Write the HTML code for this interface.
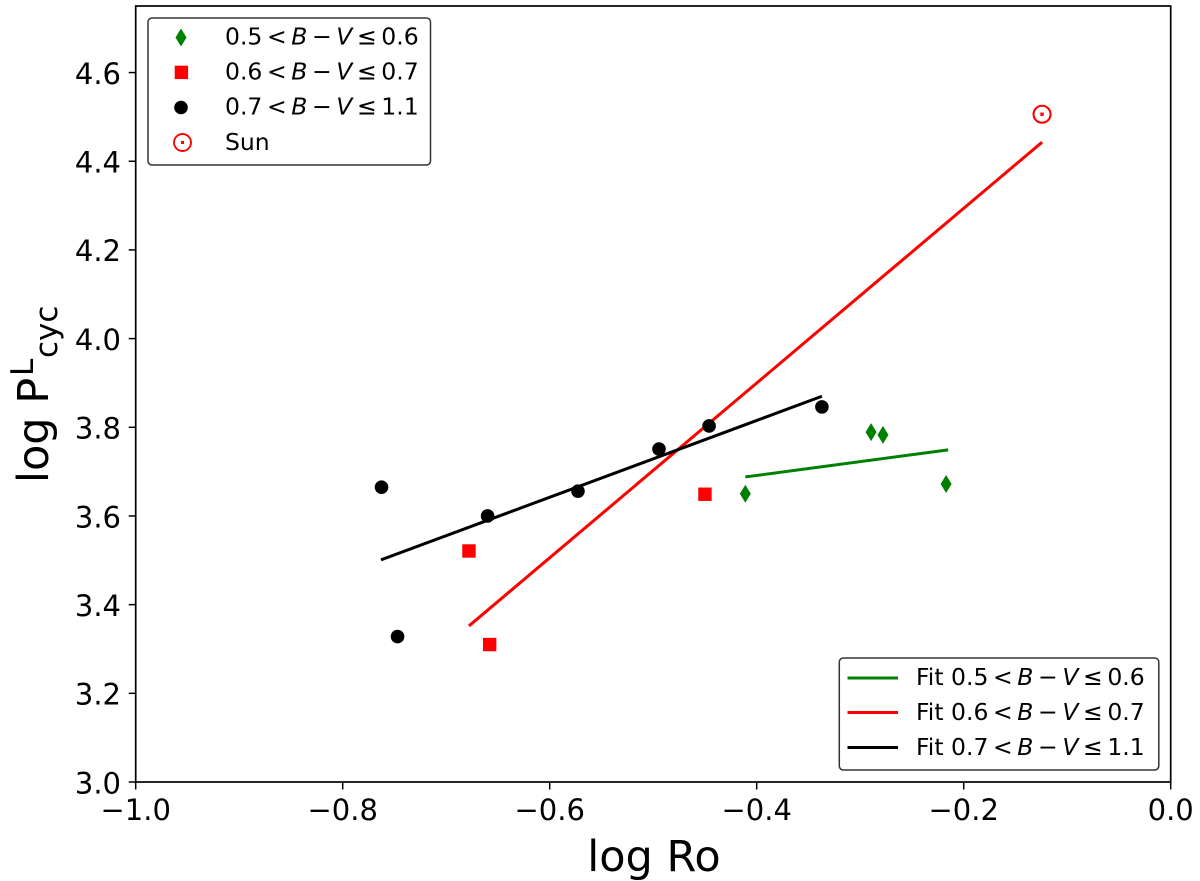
<!DOCTYPE html>
<html>
<head>
<meta charset="utf-8">
<style>
html,body{margin:0;padding:0;background:#fff;width:1200px;height:881px;overflow:hidden}
svg{display:block}
text{font-family:"DejaVu Sans","Liberation Sans",sans-serif;fill:#000}
.tick{font-size:29px}
.leg{font-size:23.5px}
.i{font-style:italic}
</style>
</head>
<body>
<svg id="chart" width="1200" height="881" viewBox="0 0 1200 881" xmlns="http://www.w3.org/2000/svg">
  <rect x="0" y="0" width="1200" height="881" fill="#fff"/>
  <g id="fits"></g>
  <g id="points"></g>
  <rect x="135.7" y="6" width="1035" height="776" fill="none" stroke="#000" stroke-width="1.7"/>
  <g id="xticks"></g>
  <g id="yticks"></g>

  <text x="654" y="871" font-size="43" text-anchor="middle">log Ro</text>
  <g>
    <text transform="translate(48,483) rotate(-90)" font-size="43">log P</text>
    <text transform="translate(33,376) rotate(-90)" font-size="31">L</text>
    <text transform="translate(57,358) rotate(-90)" font-size="31">cyc</text>
  </g>

  <g>
    <rect x="148" y="18" width="282.5" height="147" rx="4" fill="#fff" fill-opacity="0.8" stroke="#333" stroke-width="1.5"/>
    <g>
      <path d="M181 28.5 L186.5 37.5 L181 46.5 L175.5 37.5 Z" fill="#008000"/>
      <text class="leg" x="225" y="44.5">0.5<tspan dx="4.6">&lt;</tspan><tspan class="i" dx="4.6">B</tspan><tspan dx="4.6">−</tspan><tspan class="i" dx="4.6">V</tspan><tspan dx="4.6">≤</tspan><tspan dx="4.6">0.6</tspan></text>
    </g>
    <g>
      <rect x="174.7" y="65.7" width="13.4" height="13.4" fill="#f00"/>
      <text class="leg" x="225" y="79.5">0.6<tspan dx="4.6">&lt;</tspan><tspan class="i" dx="4.6">B</tspan><tspan dx="4.6">−</tspan><tspan class="i" dx="4.6">V</tspan><tspan dx="4.6">≤</tspan><tspan dx="4.6">0.7</tspan></text>
    </g>
    <g>
      <circle cx="181" cy="107.5" r="6.8" fill="#000"/>
      <text class="leg" x="225" y="114.5">0.7<tspan dx="4.6">&lt;</tspan><tspan class="i" dx="4.6">B</tspan><tspan dx="4.6">−</tspan><tspan class="i" dx="4.6">V</tspan><tspan dx="4.6">≤</tspan><tspan dx="4.6">1.1</tspan></text>
    </g>
    <g>
      <circle cx="182.5" cy="142.5" r="8.5" fill="none" stroke="#f00" stroke-width="1.9"/>
      <rect x="181" y="141" width="3" height="3" fill="#f00"/>
      <text class="leg" x="225" y="150">Sun</text>
    </g>
  </g>

  <g>
    <rect x="839.3" y="658" width="319.5" height="112" rx="4" fill="#fff" fill-opacity="0.8" stroke="#333" stroke-width="1.5"/>
    <g>
      <line x1="847.5" y1="678" x2="898" y2="678" stroke="#008000" stroke-width="3"/>
      <text class="leg" x="916" y="685">Fit 0.5<tspan dx="4.6">&lt;</tspan><tspan class="i" dx="4.6">B</tspan><tspan dx="4.6">−</tspan><tspan class="i" dx="4.6">V</tspan><tspan dx="4.6">≤</tspan><tspan dx="4.6">0.6</tspan></text>
    </g>
    <g>
      <line x1="847.5" y1="712.5" x2="898" y2="712.5" stroke="#f00" stroke-width="3"/>
      <text class="leg" x="916" y="720">Fit 0.6<tspan dx="4.6">&lt;</tspan><tspan class="i" dx="4.6">B</tspan><tspan dx="4.6">−</tspan><tspan class="i" dx="4.6">V</tspan><tspan dx="4.6">≤</tspan><tspan dx="4.6">0.7</tspan></text>
    </g>
    <g>
      <line x1="847.5" y1="747.5" x2="898" y2="747.5" stroke="#000" stroke-width="3"/>
      <text class="leg" x="916" y="755">Fit 0.7<tspan dx="4.6">&lt;</tspan><tspan class="i" dx="4.6">B</tspan><tspan dx="4.6">−</tspan><tspan class="i" dx="4.6">V</tspan><tspan dx="4.6">≤</tspan><tspan dx="4.6">1.1</tspan></text>
    </g>
  </g>
</svg>
<script>
var xTickValues = [-1.0, -0.8, -0.6, -0.4, -0.2, 0.0];
var xTickLabels = ['−1.0', '−0.8', '−0.6', '−0.4', '−0.2', '0.0'];
var yTickValues = [3.0, 3.2, 3.4, 3.6, 3.8, 4.0, 4.2, 4.4, 4.6];
var yTickLabels = ['3.0', '3.2', '3.4', '3.6', '3.8', '4.0', '4.2', '4.4', '4.6'];

var greenX = [-0.411, -0.2895, -0.278, -0.217];
var greenY = [3.650, 3.789, 3.783, 3.672];
var redX = [-0.678, -0.658, -0.450];
var redY = [3.521, 3.310, 3.649];
var blackX = [-0.7625, -0.747, -0.660, -0.5727, -0.4944, -0.446, -0.337];
var blackY = [3.665, 3.328, 3.600, 3.656, 3.751, 3.803, 3.846];
var sunX = [-0.1243];
var sunY = [4.506];

var fitGreenX = [-0.411, -0.215];
var fitGreenY = [3.688, 3.749];
var fitRedX = [-0.678, -0.1243];
var fitRedY = [3.352, 4.443];
var fitBlackX = [-0.763, -0.337];
var fitBlackY = [3.501, 3.870];

var SVG_NS = 'http://www.w3.org/2000/svg';
function sx(v) { return 135.7 + (v + 1) * 1035; }
function sy(v) { return 782 - (v - 3) * 443.4; }
function mk(tag, attrs, parent) {
  var el = document.createElementNS(SVG_NS, tag);
  for (var k in attrs) { el.setAttribute(k, attrs[k]); }
  parent.appendChild(el);
  return el;
}

var xg = document.getElementById('xticks');
xTickValues.forEach(function (v, i) {
  var t = mk('line', { x1: sx(v), x2: sx(v), y1: 782, y2: 789.5, stroke: '#000', 'stroke-width': 1.5 }, xg);
  
  
  var l = mk('text', { x: sx(v), y: 820, 'text-anchor': 'middle', 'class': 'tick' }, xg);
  
  
  l.textContent = xTickLabels[i];
});

var yg = document.getElementById('yticks');
yTickValues.forEach(function (v, i) {
  var t = mk('line', { x1: 128.7, x2: 135.7, y1: sy(v), y2: sy(v), stroke: '#000', 'stroke-width': 1.5 }, yg);
  
  
  var l = mk('text', { x: 121, y: sy(v) + 11.3, 'text-anchor': 'end', 'class': 'tick' }, yg);
  
  
  l.textContent = yTickLabels[i];
});

var fg = document.getElementById('fits');
function fit(xs, ys, color) {
  var pts = xs.map(function (x, i) { return sx(x) + ',' + sy(ys[i]); }).join(' ');
  return mk('polyline', { points: pts, fill: 'none', stroke: color, 'stroke-width': 3 }, fg);
}
var fitG = fit(fitGreenX, fitGreenY, '#008000');


var fitR = fit(fitRedX, fitRedY, '#f00');


var fitB = fit(fitBlackX, fitBlackY, '#000');



var pg = document.getElementById('points');
greenX.forEach(function (x, i) {
  var cx = sx(x), cy = sy(greenY[i]);
  var d = mk('path', { d: 'M' + cx + ' ' + (cy - 9) + ' L' + (cx + 5.5) + ' ' + cy + ' L' + cx + ' ' + (cy + 9) + ' L' + (cx - 5.5) + ' ' + cy + ' Z', fill: '#008000' }, pg);
  
  
});
redX.forEach(function (x, i) {
  var r = mk('rect', { x: sx(x) - 6.7, y: sy(redY[i]) - 6.7, width: 13.4, height: 13.4, fill: '#f00' }, pg);
  
  
});
blackX.forEach(function (x, i) {
  var c = mk('circle', { cx: sx(x), cy: sy(blackY[i]), r: 6.8, fill: '#000' }, pg);
  
  
});
sunX.forEach(function (x, i) {
  var c = mk('circle', { cx: sx(x), cy: sy(sunY[i]), r: 8.5, fill: 'none', stroke: '#f00', 'stroke-width': 2.1 }, pg);
  
  
  var dot = mk('rect', { x: sx(x) - 1.7, y: sy(sunY[i]) - 1.7, width: 3.4, height: 3.4, fill: '#f00' }, pg);
  
  
});
</script>
</body>
</html>
